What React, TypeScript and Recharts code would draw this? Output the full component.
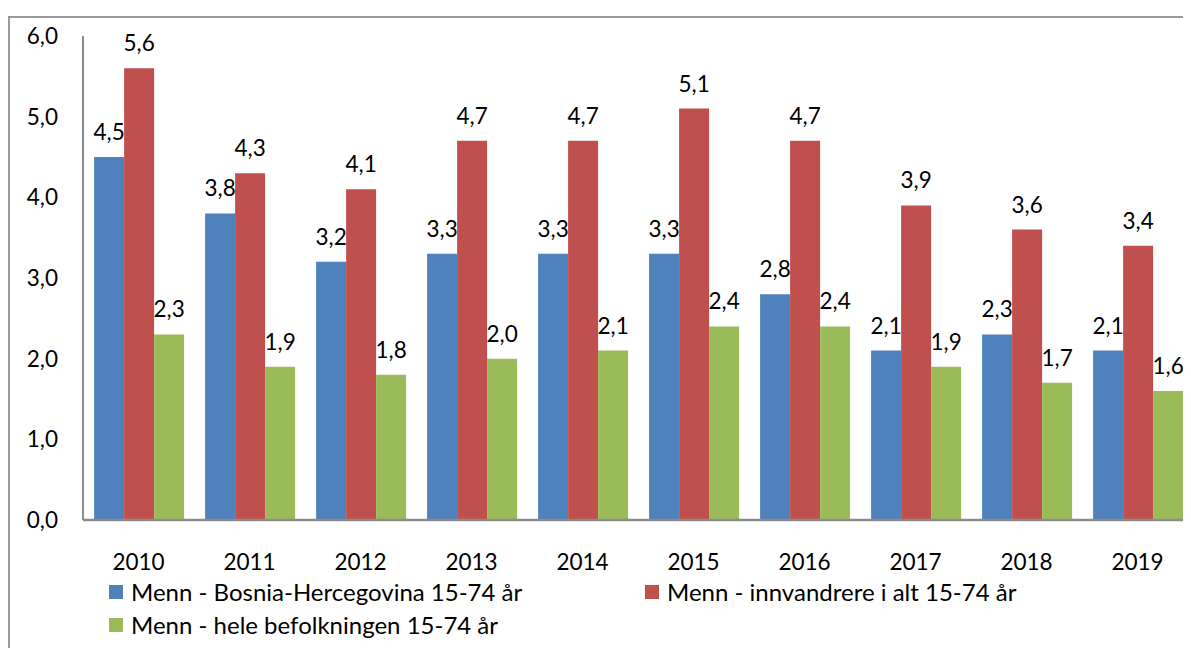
import React from 'react';
import { BarChart, Bar, XAxis, YAxis, LabelList, Legend } from 'recharts';

const years = ['2010', '2011', '2012', '2013', '2014', '2015', '2016', '2017', '2018', '2019'];
const bosnia = [4.5, 3.8, 3.2, 3.3, 3.3, 3.3, 2.8, 2.1, 2.3, 2.1];
const innvandrere = [5.6, 4.3, 4.1, 4.7, 4.7, 5.1, 4.7, 3.9, 3.6, 3.4];
const hele = [2.3, 1.9, 1.8, 2.0, 2.1, 2.4, 2.4, 1.9, 1.7, 1.6];
const yTicks = [0, 1, 2, 3, 4, 5, 6];

const seriesNames = {
  bosnia: 'Menn - Bosnia-Hercegovina 15-74 år',
  innvandrere: 'Menn - innvandrere i alt 15-74 år',
  hele: 'Menn - hele befolkningen 15-74 år',
};
const colors = { bosnia: '#4F81BD', innvandrere: '#C0504D', hele: '#9BBB59' };

const data = years.map((year, i) => ({
  year,
  bosnia: bosnia[i],
  innvandrere: innvandrere[i],
  hele: hele[i],
}));

const FONT = 'Lato, "Open Sans", sans-serif';
const FS = 22.5;
const fmt = (v: number) => v.toFixed(1).replace('.', ',');

const legendItems = [
  { key: 'bosnia', left: 101, top: 16 },
  { key: 'innvandrere', left: 637, top: 16 },
  { key: 'hele', left: 101, top: 49 },
];

const LegendContent = () => (
  <div style={{ position: 'relative', height: 68, fontFamily: FONT, fontSize: 24, color: '#000' }}>
    {legendItems.map((it) => (
      <div
        key={it.key}
        style={{
          position: 'absolute',
          left: it.left,
          top: it.top,
          transform: 'translateY(-50%)',
          display: 'flex',
          alignItems: 'center',
          whiteSpace: 'nowrap',
          lineHeight: '28px',
        }}
      >
        <span style={{ width: 14, height: 14, background: (colors as any)[it.key], display: 'inline-block', marginRight: 8 }} />
        <span>{(seriesNames as any)[it.key]}</span>
      </div>
    ))}
  </div>
);

export default function App() {
  return (
    <div style={{ position: 'relative', width: 1183, height: 640, overflow: 'hidden' }}>
      <div
        style={{
          position: 'absolute',
          left: 0,
          top: 8,
          width: 1400,
          height: 800,
          border: '2px solid #9a9a9a',
          boxSizing: 'border-box',
        }}
      />
      <div style={{ position: 'absolute', left: 0, top: 0 }}>
        <BarChart
          width={1185}
          height={640}
          data={data}
          margin={{ top: 28, right: 0, bottom: 0, left: 0 }}
          barCategoryGap="10%"
          barGap={0}
        >
          <XAxis
            dataKey="year"
            tickLine={false}
            tickSize={0}
            tickMargin={34}
            height={60}
            axisLine={{ stroke: '#8c8c8c', strokeWidth: 2.5 }}
            tick={{ fill: '#000', fontSize: FS, fontFamily: FONT }}
          />
          <YAxis
            domain={[0, 6]}
            ticks={yTicks}
            interval={0}
            width={75}
            tickLine={false}
            tickSize={0}
            tickMargin={25}
            tickFormatter={fmt}
            axisLine={{ stroke: '#8c8c8c', strokeWidth: 2 }}
            tick={{ fill: '#000', fontSize: FS, fontFamily: FONT }}
          />
          <Legend
            verticalAlign="bottom"
            content={LegendContent}
            wrapperStyle={{ left: 0, top: 568, width: 1185, height: 68 }}
          />
          {(['bosnia', 'innvandrere', 'hele'] as const).map((k) => (
            <Bar key={k} dataKey={k} fill={colors[k]} isAnimationActive={false}>
              <LabelList
                dataKey={k}
                position="top"
                offset={17}
                formatter={(v: any) => fmt(Number(v))}
                style={{ fill: '#000', fontSize: FS, fontFamily: FONT }}
              />
            </Bar>
          ))}
        </BarChart>
      </div>
    </div>
  );
}
